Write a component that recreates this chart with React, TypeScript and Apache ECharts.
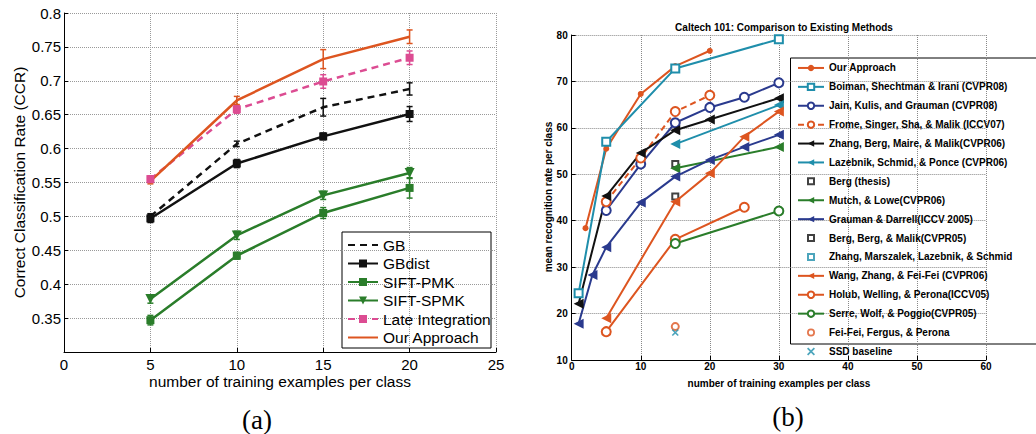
import React, { useEffect, useRef } from "react";
import * as echarts from "echarts";

// ---------- (a) data ----------
const xA = [5, 10, 15, 20];
const gbVals = [0.5, 0.607, 0.661, 0.688];
const gbErr = [0.004, 0.004, 0.013, 0.009];
const gbdistVals = [0.497, 0.578, 0.618, 0.651];
const gbdistErr = [0.006, 0.006, 0.005, 0.011];
const pmkVals = [0.347, 0.442, 0.505, 0.542];
const pmkErr = [0.007, 0.005, 0.008, 0.015];
const spmkVals = [0.378, 0.472, 0.531, 0.564];
const spmkErr = [0.006, 0.006, 0.006, 0.008];
const lateVals = [0.555, 0.658, 0.699, 0.734];
const lateErr = [0.005, 0.006, 0.01, 0.01];
const oursVals = [0.552, 0.671, 0.732, 0.765];
const oursErr = [0.004, 0.006, 0.014, 0.01];
const yTicksA = [0.3, 0.8, 0.05];
const xTicksA = [0, 25, 5];

// ---------- (b) data ----------
const bOurs = [[2, 38.4], [5, 55.5], [10, 67.3], [15, 73.3], [20, 76.6]];
const bBoiman = [[1, 24.4], [5, 57.0], [15, 72.8], [30, 79.1]];
const bJain = [[5, 42.2], [10, 52.2], [15, 61.1], [20, 64.4], [25, 66.6], [30, 69.7]];
const bFrome = [[5, 44.1], [10, 53.5], [15, 63.5], [20, 67.0]];
const bZhangBerg = [[1, 22.1], [5, 45.3], [10, 54.6], [15, 59.5], [20, 61.8], [30, 66.4]];
const bLazebnik = [[15, 56.5], [30, 64.9]];
const bBergThesis = [[15, 52.2]];
const bMutch = [[15, 51.3], [30, 55.9]];
const bGrauman = [[1, 17.8], [3, 28.3], [5, 34.3], [10, 43.9], [15, 49.5], [20, 53.1], [25, 55.9], [30, 58.5]];
const bBergBerg = [[15, 45.2]];
const bZhangMars: number[][] = [];
const bWang = [[5, 19.0], [15, 44.1], [20, 50.2], [25, 58.1], [30, 63.5]];
const bHolub = [[5, 16.1], [15, 36.0], [25, 42.9]];
const bSerre = [[15, 35.1], [30, 42.1]];
const bFeiFei = [[15, 17.2]];
const bSSD = [[15, 15.9]];
const yTicksB = [10, 80, 10];
const xTicksB = [0, 60, 10];

const FONT = "Liberation Sans, Arial, sans-serif";
const ORANGE = "#dd5520";
const TEAL = "#1f8eab";
const DBLUE = "#2a3a8e";
const BLACK = "#111111";
const GREEN = "#2a7d2a";
const PINK = "#dc4c92";

const LEFT_TRI = "path://M0,5L10,0L10,10Z";
const DOWN_TRI = "path://M0,0L10,0L5,9Z";
const XMARK = "path://M1.5,0L5,3.5L8.5,0L10,1.5L6.5,5L10,8.5L8.5,10L5,6.5L1.5,10L0,8.5L3.5,5L0,1.5Z";
const HOLLOW_SQ = "path://M0,0H10V10H0Z M2.5,2.5V7.5H7.5V2.5Z";
const HOLLOW_CIRC = "path://M5,0A5,5 0 1,1 5,10A5,5 0 1,1 5,0Z M5,2.2A2.8,2.8 0 1,0 5,7.8A2.8,2.8 0 1,0 5,2.2Z";

function errSeries(vals: number[], errs: number[], color: string) {
  return {
    type: "custom",
    xAxisIndex: 0,
    yAxisIndex: 0,
    silent: true,
    z: 3,
    data: xA.map((x, i) => [x, vals[i] - errs[i], vals[i] + errs[i]]),
    renderItem: (params: any, api: any) => {
      const x = api.value(0);
      const p1 = api.coord([x, api.value(1)]);
      const p2 = api.coord([x, api.value(2)]);
      const w = 3;
      const style = { stroke: color, lineWidth: 1.5 };
      return {
        type: "group",
        children: [
          { type: "line", shape: { x1: p1[0], y1: p1[1], x2: p2[0], y2: p2[1] }, style },
          { type: "line", shape: { x1: p1[0] - w, y1: p1[1], x2: p1[0] + w, y2: p1[1] }, style },
          { type: "line", shape: { x1: p2[0] - w, y1: p2[1], x2: p2[0] + w, y2: p2[1] }, style },
        ],
      };
    },
  };
}

function lineA(name: string, vals: number[], color: string, dashed: boolean, symbol: string, size: number) {
  return {
    name,
    type: "line",
    xAxisIndex: 0,
    yAxisIndex: 0,
    data: xA.map((x, i) => [x, vals[i]]),
    color,
    symbol,
    symbolSize: size,
    showSymbol: symbol !== "none",
    lineStyle: { color, width: 2.5, type: dashed ? [7, 5] : "solid" },
    itemStyle: { color },
    z: 4,
  };
}

function lineB(name: string, data: number[][], color: string, symbol: string, size: number, opts: any = {}) {
  const empty = symbol.startsWith("empty");
  return {
    name: "b:" + name,
    type: opts.scatter ? "scatter" : "line",
    xAxisIndex: 1,
    yAxisIndex: 1,
    data,
    color,
    symbol,
    symbolSize: size,
    lineStyle: { color, width: 2, type: opts.dashed ? [6, 4] : "solid" },
    itemStyle: empty ? { color, borderColor: color, borderWidth: 2 } : { color },
    z: 4,
  };
}

export default function App() {
  const ref = useRef<HTMLDivElement>(null);
  useEffect(() => {
    if (!ref.current) return;
    const chart = echarts.init(ref.current, null, { renderer: "svg" });
    const axisLine = { show: true, onZero: false, lineStyle: { color: "#000", width: 1 } };
    const tick = { show: true, inside: true, length: 4, lineStyle: { color: "#000" } };
    const splitA = { show: true, lineStyle: { color: "#999", type: "dotted", width: 1 } };
    const splitB = { show: true, lineStyle: { color: "#888", type: "dotted", width: 1 } };

    const legendANames = ["GB", "GBdist", "SIFT-PMK", "SIFT-SPMK", "Late Integration", "Our Approach"];
    const noMarkerA = ["GB", "Our Approach"];
    const legendBNames = [
      "Our Approach",
      "Boiman, Shechtman & Irani (CVPR08)",
      "Jain, Kulis, and Grauman (CVPR08)",
      "Frome, Singer, Sha, & Malik (ICCV07)",
      "Zhang, Berg, Maire, & Malik(CVPR06)",
      "Lazebnik, Schmid, & Ponce (CVPR06)",
      "Berg (thesis)",
      "Mutch, & Lowe(CVPR06)",
      "Grauman & Darrell(ICCV 2005)",
      "Berg, Berg, & Malik(CVPR05)",
      "Zhang, Marszalek, Lazebnik, & Schmid",
      "Wang, Zhang, & Fei-Fei (CVPR06)",
      "Holub, Welling, & Perona(ICCV05)",
      "Serre, Wolf, & Poggio(CVPR05)",
      "Fei-Fei, Fergus, & Perona",
      "SSD baseline",
    ];

    chart.setOption({
      animation: false,
      backgroundColor: "#fff",
      textStyle: { fontFamily: FONT },
      title: {
        text: "Caltech 101: Comparison to Existing Methods",
        left: 779,
        top: 17,
        textAlign: "center",
        textStyle: { fontFamily: FONT, fontSize: 10, fontWeight: "bold", color: "#000" },
      },
      grid: [
        { left: 64, top: 13, width: 432, height: 339 },
        { left: 571.7, top: 35, width: 414.3, height: 325 },
      ],
      xAxis: [
        {
          type: "value", gridIndex: 0, min: xTicksA[0], max: xTicksA[1], interval: xTicksA[2],
          axisLine, axisTick: tick, splitLine: splitA,
          axisLabel: { fontSize: 15, lineHeight: 15, color: "#000", margin: 5, fontFamily: FONT },
        },
        {
          type: "value", gridIndex: 1, min: xTicksB[0], max: xTicksB[1], interval: xTicksB[2],
          axisLine, axisTick: tick, splitLine: splitB,
          axisLabel: { fontSize: 10, lineHeight: 11, fontWeight: "bold", color: "#000", margin: 1, fontFamily: FONT },
        },
      ],
      yAxis: [
        {
          type: "value", gridIndex: 0, min: yTicksA[0], max: yTicksA[1], interval: yTicksA[2],
          axisLine, axisTick: tick, splitLine: splitA,
          axisLabel: {
            fontSize: 15, color: "#000", margin: 3, fontFamily: FONT,
            formatter: (v: number) => (v < 0.31 ? "" : String(+v.toFixed(2))),
          },
        },
        {
          type: "value", gridIndex: 1, min: yTicksB[0], max: yTicksB[1], interval: yTicksB[2],
          axisLine, axisTick: tick, splitLine: splitB,
          axisLabel: { fontSize: 10, fontWeight: "bold", color: "#000", margin: 4, fontFamily: FONT },
        },
      ],
      legend: [
        {
          data: legendANames.map((n) => (noMarkerA.includes(n) ? { name: n, itemStyle: { opacity: 0 } } : n)),
          orient: "vertical",
          left: 347,
          top: 235.75,
          itemWidth: 30,
          itemHeight: 10,
          itemGap: 0,
          padding: 0,
          textStyle: { fontSize: 15.5, lineHeight: 18.5, color: "#000", fontFamily: FONT },
        },
        {
          data: legendBNames.map((n) => "b:" + n),
          orient: "vertical",
          left: 797,
          top: 58.5,
          itemWidth: 26,
          itemHeight: 8,
          itemGap: 0,
          padding: 0,
          formatter: (n: string) => n.replace(/^b:/, ""),
          textStyle: { fontSize: 10, fontWeight: "bold", lineHeight: 18.9, color: "#000", fontFamily: FONT },
        },
      ],
      graphic: [
        { type: "rect", shape: { x: 342, y: 232, width: 149, height: 116 }, style: { fill: "#fff", stroke: "#000", lineWidth: 1 }, z: -1 },
        { type: "rect", shape: { x: 790.5, y: 58, width: 260, height: 286 }, style: { fill: "#fff", stroke: "#000", lineWidth: 1 }, z: -1 },
        { type: "text", x: 19, y: 182.5, rotation: Math.PI / 2, style: { text: "Correct Classification Rate (CCR)", fontSize: 15.5, fontFamily: FONT, fill: "#000", align: "center", verticalAlign: "middle" } },
        { type: "text", x: 280, y: 381, style: { text: "number of training examples per class", fontSize: 15.5, fontFamily: FONT, fill: "#000", align: "center", verticalAlign: "middle" } },
        { type: "text", x: 548, y: 197, rotation: Math.PI / 2, style: { text: "mean recognition rate per class", fontSize: 10, fontWeight: "bold", fontFamily: FONT, fill: "#000", align: "center", verticalAlign: "middle" } },
        { type: "text", x: 779, y: 383, style: { text: "number of training examples per class", fontSize: 10, fontWeight: "bold", fontFamily: FONT, fill: "#000", align: "center", verticalAlign: "middle" } },
        { type: "text", x: 257, y: 420, style: { text: "(a)", fontSize: 27, fontFamily: "Liberation Serif, DejaVu Serif, serif", fill: "#000", align: "center", verticalAlign: "middle" } },
        { type: "text", x: 788, y: 417, style: { text: "(b)", fontSize: 27, fontFamily: "Liberation Serif, DejaVu Serif, serif", fill: "#000", align: "center", verticalAlign: "middle" } },
      ],
      series: [
        errSeries(gbVals, gbErr, BLACK),
        errSeries(gbdistVals, gbdistErr, BLACK),
        errSeries(pmkVals, pmkErr, GREEN),
        errSeries(spmkVals, spmkErr, GREEN),
        errSeries(lateVals, lateErr, PINK),
        errSeries(oursVals, oursErr, ORANGE),
        lineA("GB", gbVals, BLACK, true, "none", 6),
        lineA("GBdist", gbdistVals, BLACK, false, "rect", 8),
        lineA("SIFT-PMK", pmkVals, GREEN, false, "rect", 8),
        lineA("SIFT-SPMK", spmkVals, GREEN, false, DOWN_TRI, 10),
        lineA("Late Integration", lateVals, PINK, true, "rect", 8),
        lineA("Our Approach", oursVals, ORANGE, false, "none", 6),

        lineB("Our Approach", bOurs, ORANGE, "circle", 6),
        lineB("Boiman, Shechtman & Irani (CVPR08)", bBoiman, TEAL, "emptyRect", 8),
        lineB("Jain, Kulis, and Grauman (CVPR08)", bJain, DBLUE, "emptyCircle", 9),
        lineB("Frome, Singer, Sha, & Malik (ICCV07)", bFrome, ORANGE, "emptyCircle", 9, { dashed: true }),
        lineB("Zhang, Berg, Maire, & Malik(CVPR06)", bZhangBerg, BLACK, LEFT_TRI, 10),
        lineB("Lazebnik, Schmid, & Ponce (CVPR06)", bLazebnik, TEAL, LEFT_TRI, 10),
        lineB("Berg (thesis)", bBergThesis, BLACK, HOLLOW_SQ, 8, { scatter: true }),
        lineB("Mutch, & Lowe(CVPR06)", bMutch, GREEN, LEFT_TRI, 10),
        lineB("Grauman & Darrell(ICCV 2005)", bGrauman, DBLUE, LEFT_TRI, 10),
        lineB("Berg, Berg, & Malik(CVPR05)", bBergBerg, BLACK, HOLLOW_SQ, 8, { scatter: true }),
        lineB("Zhang, Marszalek, Lazebnik, & Schmid", bZhangMars, TEAL, HOLLOW_SQ, 8, { scatter: true }),
        lineB("Wang, Zhang, & Fei-Fei (CVPR06)", bWang, ORANGE, LEFT_TRI, 10),
        lineB("Holub, Welling, & Perona(ICCV05)", bHolub, ORANGE, "emptyCircle", 9),
        lineB("Serre, Wolf, & Poggio(CVPR05)", bSerre, GREEN, "emptyCircle", 9),
        lineB("Fei-Fei, Fergus, & Perona", bFeiFei, ORANGE, HOLLOW_CIRC, 9, { scatter: true }),
        lineB("SSD baseline", bSSD, TEAL, XMARK, 7, { scatter: true }),
      ],
    });
    return () => chart.dispose();
  }, []);
  return <div ref={ref} style={{ position: "fixed", left: 0, top: 0, width: 1036, height: 434 }} />;
}
